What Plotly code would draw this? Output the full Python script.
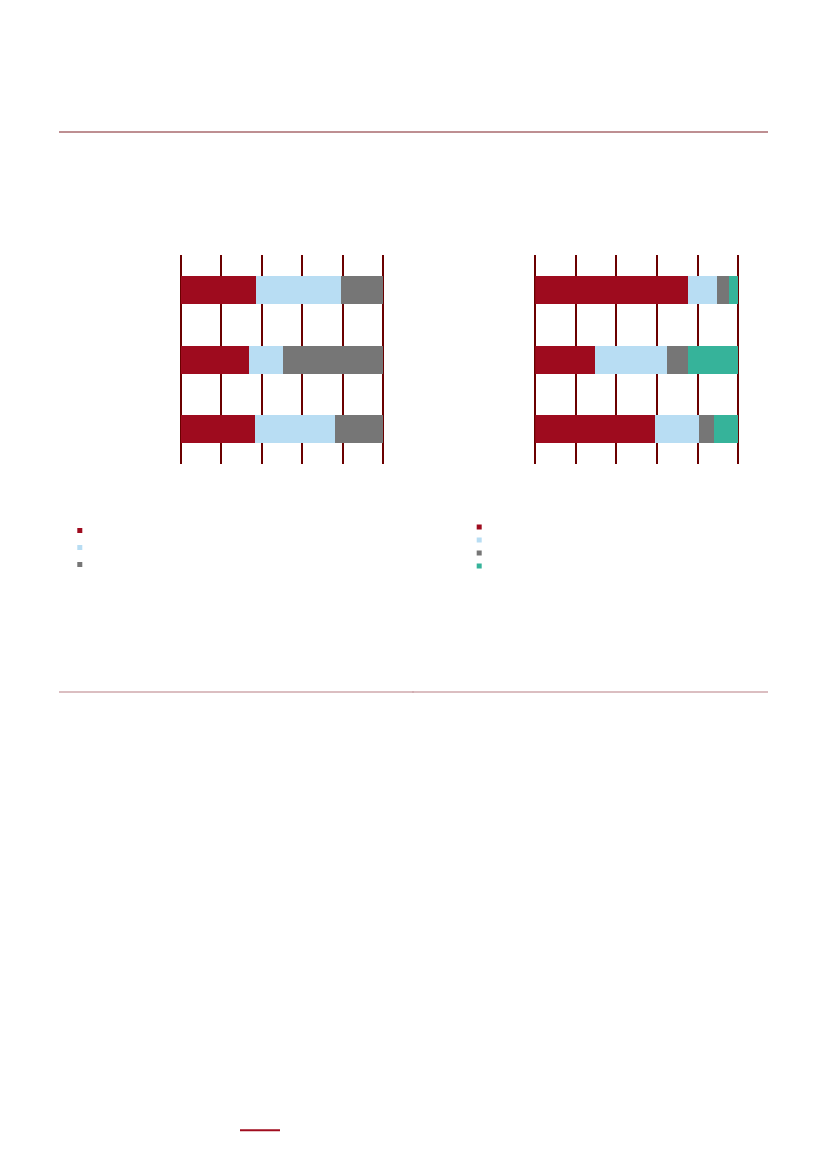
import plotly.graph_objects as go

W, H = 827, 1169
OFF = 8  # page body margin shifts the figure by this much

# left panel: three rows, three segments (share of 100)
left_rows = [0, 1, 2]
left_red = [37.1, 33.5, 36.8]
left_blue = [42.1, 16.8, 39.6]
left_gray = [20.8, 49.7, 23.6]

# right panel: three rows, four segments
right_rows = [0, 1, 2]
right_red = [75.1, 29.6, 59.0]
right_blue = [14.6, 35.3, 21.6]
right_gray = [5.7, 10.5, 7.4]
right_teal = [4.6, 24.6, 12.0]

x_ticks = [0, 20, 40, 60, 80, 100]

RED = "#9E0B1E"
BLUE = "#B8DDF3"
GRAY = "#767676"
TEAL = "#36B39A"
GRID = "#6B0000"


def px(x):
    return (x - OFF) / W


def py(y):
    return 1 - (y - OFF) / H


fig = go.Figure()

for seg, color in [(left_red, RED), (left_blue, BLUE), (left_gray, GRAY)]:
    fig.add_trace(go.Bar(x=seg, y=left_rows, orientation="h", width=0.4,
                         marker=dict(color=color, line=dict(width=0)),
                         xaxis="x", yaxis="y", showlegend=False))

for seg, color in [(right_red, RED), (right_blue, BLUE), (right_gray, GRAY), (right_teal, TEAL)]:
    fig.add_trace(go.Bar(x=seg, y=right_rows, orientation="h", width=0.4,
                         marker=dict(color=color, line=dict(width=0)),
                         xaxis="x2", yaxis="y2", showlegend=False))

# legend keys (labels absent in the source page)
left_keys = [RED, BLUE, GRAY]
right_keys = [RED, BLUE, GRAY, TEAL]
fig.add_trace(go.Scatter(x=[0] * len(left_keys), y=list(range(len(left_keys))), mode="markers",
                         marker=dict(symbol="square", size=5, color=left_keys),
                         xaxis="x3", yaxis="y3", showlegend=False, hoverinfo="skip"))
fig.add_trace(go.Scatter(x=[0] * len(right_keys), y=list(range(len(right_keys))), mode="markers",
                         marker=dict(symbol="square", size=5, color=right_keys),
                         xaxis="x4", yaxis="y4", showlegend=False, hoverinfo="skip"))

# slight overshoot past 100 so the last gridline is drawn
xgrid = dict(range=[0, 100.5], tickvals=x_ticks, showticklabels=False, showgrid=True,
             gridcolor=GRID, gridwidth=1.5, zeroline=True, zerolinecolor=GRID,
             zerolinewidth=1.5, showline=False, fixedrange=True)
ybase = dict(range=[2.5, -0.5], showticklabels=False, showgrid=False, zeroline=False,
             showline=False, fixedrange=True)
hidden = dict(visible=False, fixedrange=True)

fig.update_layout(
    width=W, height=H,
    margin=dict(l=0, r=0, t=0, b=0),
    paper_bgcolor="white", plot_bgcolor="rgba(0,0,0,0)",
    barmode="stack", bargap=0.6,
    font=dict(family="Liberation Sans", size=10, color="#333333"),
    xaxis=dict(domain=[px(181), px(384)], anchor="y", **xgrid),
    yaxis=dict(domain=[py(464), py(255.3)], anchor="x", **ybase),
    xaxis2=dict(domain=[px(535.3), px(739.3)], anchor="y2", **xgrid),
    yaxis2=dict(domain=[py(464), py(255.3)], anchor="x2", **ybase),
    xaxis3=dict(domain=[px(74.8), px(84.8)], anchor="y3", range=[-1, 1], **hidden),
    yaxis3=dict(domain=[py(573), py(522)], anchor="x3", range=[2.5, -0.5], **hidden),
    xaxis4=dict(domain=[px(474.2), px(484.2)], anchor="y4", range=[-1, 1], **hidden),
    yaxis4=dict(domain=[py(572.5), py(520.5)], anchor="x4", range=[3.5, -0.5], **hidden),
    shapes=[
        dict(type="line", xref="paper", yref="paper", x0=px(59), x1=px(768), y0=py(132), y1=py(132),
             line=dict(color="#A86A6E", width=1.5)),
        dict(type="line", xref="paper", yref="paper", x0=px(59), x1=px(414), y0=py(692), y1=py(692),
             line=dict(color="#CFA9AC", width=1.5)),
        dict(type="line", xref="paper", yref="paper", x0=px(412), x1=px(768), y0=py(692), y1=py(692),
             line=dict(color="#CFA9AC", width=1.5)),
        dict(type="line", xref="paper", yref="paper", x0=px(240), x1=px(280), y0=py(1130.3), y1=py(1130.3),
             line=dict(color="#A00D1E", width=2)),
    ],
)

fig.write_html("out.html")
